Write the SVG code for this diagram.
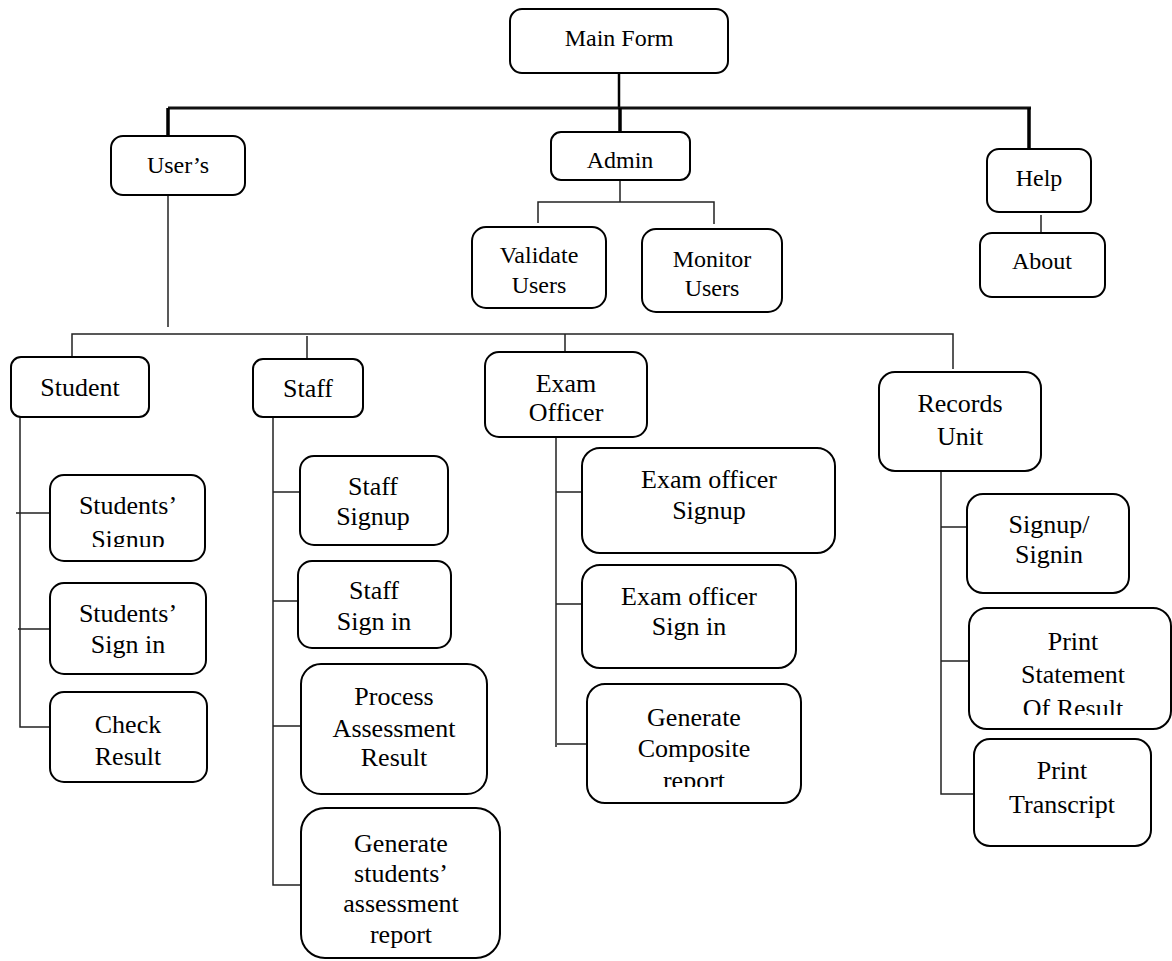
<svg xmlns="http://www.w3.org/2000/svg" width="1172" height="961" viewBox="0 0 1172 961">
<style>
.box{fill:#fff;stroke:#000;stroke-width:2}
.t{font-size:26px;fill:#000;text-anchor:middle}
.s{font-size:24px}
.c{fill:none;stroke:#222;stroke-width:1.5}
.k{fill:none;stroke:#000;stroke-width:3.5}
</style>
<defs>
<clipPath id="clipA"><rect x="0" y="0" width="1172" height="547"/></clipPath>
<clipPath id="clipB"><rect x="0" y="0" width="1172" height="715"/></clipPath>
<clipPath id="clipC"><rect x="0" y="0" width="1172" height="787"/></clipPath>
</defs>
<rect width="1172" height="961" fill="#fff"/>
<g id="connectors">
<path class="c" style="stroke-width:2.5;stroke:#000" d="M619 73V108"/>
<path class="c" style="stroke-width:3;stroke:#111" d="M168 108H1031"/>
<path class="k" d="M168 108V138M620 108V132M1029 108V149"/>
<path class="c" d="M168 195V327"/>
<path class="c" d="M620 180V202M538 223V202H714V224"/>
<path class="c" d="M1041 215V235"/>
<path class="c" d="M72 357V334H953V369M307 336V359M565 334V352"/>
<path class="c" d="M20 417V727H50M16 513H50M18 629H50"/>
<path class="c" d="M273 417V885H301M273 492H300M273 601H298M273 726H302"/>
<path class="c" d="M556 437V747M556 492H582M556 604H582M557 744H587"/>
<path class="c" d="M941 471V794H974M941 527H967M941 661H969"/>
</g>
<g id="nodes">
<g id="main-form"><rect class="box" x="510" y="9" width="218" height="64" rx="12"/><text class="t s" font-family="Liberation Serif" x="619" y="46">Main Form</text></g>
<g id="users"><rect class="box" x="111" y="136" width="134" height="59" rx="12"/><text class="t s" font-family="Liberation Serif" x="178" y="173">User’s</text></g>
<g id="admin"><rect class="box" x="551" y="132" width="139" height="48" rx="10"/><text class="t s" font-family="Liberation Serif" x="620" y="168">Admin</text></g>
<g id="help"><rect class="box" x="987" y="149" width="104" height="63" rx="12"/><text class="t s" font-family="Liberation Serif" x="1039" y="186">Help</text></g>
<g id="validate-users"><rect class="box" x="472" y="227" width="134" height="81" rx="14"/><text class="t s" font-family="Liberation Serif" x="539" y="263">Validate</text><text class="t s" font-family="Liberation Serif" x="539" y="293">Users</text></g>
<g id="monitor-users"><rect class="box" x="642" y="229" width="140" height="83" rx="14"/><text class="t s" font-family="Liberation Serif" x="712" y="267">Monitor</text><text class="t s" font-family="Liberation Serif" x="712" y="296">Users</text></g>
<g id="about"><rect class="box" x="980" y="233" width="125" height="64" rx="12"/><text class="t s" font-family="Liberation Serif" x="1042" y="269">About</text></g>
<g id="student"><rect class="box" x="11" y="357" width="138" height="60" rx="10"/><text class="t" font-family="Liberation Serif" x="80" y="396">Student</text></g>
<g id="staff"><rect class="box" x="253" y="359" width="110" height="58" rx="10"/><text class="t" font-family="Liberation Serif" x="308" y="397">Staff</text></g>
<g id="exam-officer"><rect class="box" x="485" y="352" width="162" height="85" rx="14"/><text class="t" font-family="Liberation Serif" x="566" y="392">Exam</text><text class="t" font-family="Liberation Serif" x="566" y="421">Officer</text></g>
<g id="records-unit"><rect class="box" x="879" y="372" width="162" height="99" rx="16"/><text class="t" font-family="Liberation Serif" x="960" y="412">Records</text><text class="t" font-family="Liberation Serif" x="960" y="445">Unit</text></g>
<g id="students-signup"><rect class="box" x="50" y="475" width="155" height="86" rx="14"/><text class="t" font-family="Liberation Serif" x="128" y="514">Students’</text><text class="t" font-family="Liberation Serif" x="128" y="548" clip-path="url(#clipA)">Signup</text></g>
<g id="students-signin"><rect class="box" x="50" y="583" width="156" height="91" rx="14"/><text class="t" font-family="Liberation Serif" x="128" y="622">Students’</text><text class="t" font-family="Liberation Serif" x="128" y="653">Sign in</text></g>
<g id="check-result"><rect class="box" x="50" y="692" width="157" height="90" rx="14"/><text class="t" font-family="Liberation Serif" x="128" y="733">Check</text><text class="t" font-family="Liberation Serif" x="128" y="765">Result</text></g>
<g id="staff-signup"><rect class="box" x="300" y="456" width="148" height="89" rx="14"/><text class="t" font-family="Liberation Serif" x="373" y="495">Staff</text><text class="t" font-family="Liberation Serif" x="373" y="525">Signup</text></g>
<g id="staff-signin"><rect class="box" x="298" y="561" width="153" height="87" rx="14"/><text class="t" font-family="Liberation Serif" x="374" y="599">Staff</text><text class="t" font-family="Liberation Serif" x="374" y="630">Sign in</text></g>
<g id="process-assessment"><rect class="box" x="301" y="664" width="186" height="130" rx="20"/><text class="t" font-family="Liberation Serif" x="394" y="705">Process</text><text class="t" font-family="Liberation Serif" x="394" y="737">Assessment</text><text class="t" font-family="Liberation Serif" x="394" y="766">Result</text></g>
<g id="generate-students-report"><rect class="box" x="301" y="808" width="199" height="150" rx="24"/><text class="t" font-family="Liberation Serif" x="401" y="852">Generate</text><text class="t" font-family="Liberation Serif" x="401" y="882">students’</text><text class="t" font-family="Liberation Serif" x="401" y="912">assessment</text><text class="t" font-family="Liberation Serif" x="401" y="943">report</text></g>
<g id="exam-officer-signup"><rect class="box" x="582" y="448" width="253" height="105" rx="18"/><text class="t" font-family="Liberation Serif" x="709" y="488">Exam officer</text><text class="t" font-family="Liberation Serif" x="709" y="519">Signup</text></g>
<g id="exam-officer-signin"><rect class="box" x="582" y="565" width="214" height="103" rx="18"/><text class="t" font-family="Liberation Serif" x="689" y="605">Exam officer</text><text class="t" font-family="Liberation Serif" x="689" y="635">Sign in</text></g>
<g id="generate-composite"><rect class="box" x="587" y="684" width="214" height="119" rx="18"/><text class="t" font-family="Liberation Serif" x="694" y="726">Generate</text><text class="t" font-family="Liberation Serif" x="694" y="757">Composite</text><text class="t" font-family="Liberation Serif" x="694" y="789" clip-path="url(#clipC)">report</text></g>
<g id="records-signup"><rect class="box" x="967" y="494" width="162" height="99" rx="16"/><text class="t" font-family="Liberation Serif" x="1049" y="533">Signup/</text><text class="t" font-family="Liberation Serif" x="1049" y="563">Signin</text></g>
<g id="print-statement"><rect class="box" x="969" y="608" width="202" height="121" rx="18"/><text class="t" font-family="Liberation Serif" x="1073" y="650">Print</text><text class="t" font-family="Liberation Serif" x="1073" y="683">Statement</text><text class="t" font-family="Liberation Serif" x="1073" y="717" clip-path="url(#clipB)">Of Result</text></g>
<g id="print-transcript"><rect class="box" x="974" y="739" width="177" height="107" rx="16"/><text class="t" font-family="Liberation Serif" x="1062" y="779">Print</text><text class="t" font-family="Liberation Serif" x="1062" y="813">Transcript</text></g>
</g>
</svg>
